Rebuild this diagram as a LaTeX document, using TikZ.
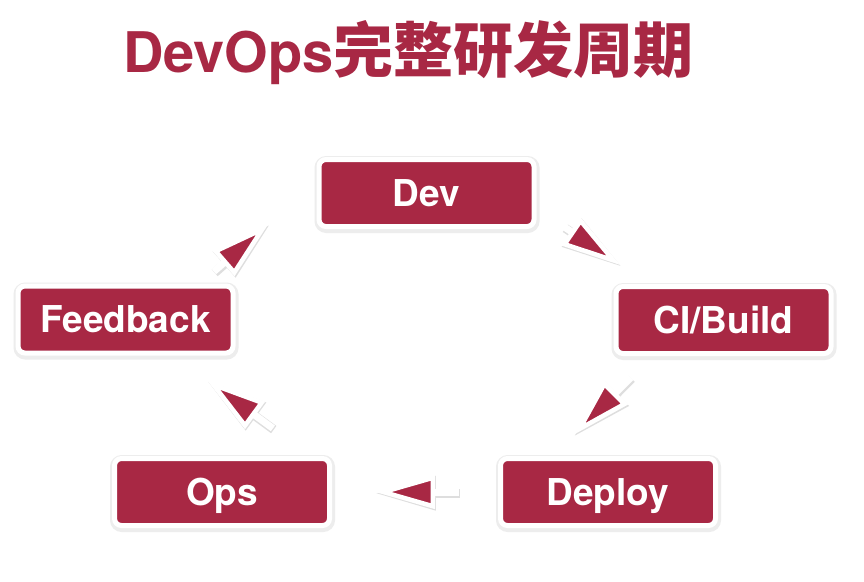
\documentclass[tikz,border=0pt]{standalone}
\usepackage{fontspec}
\setmainfont{TeX Gyre Heros}
\newfontfamily\cjk{Noto Sans CJK SC}
\usetikzlibrary{arrows.meta,calc}
\definecolor{devred}{RGB}{168,40,68}
\tikzset{
  stage/.style={rectangle, rounded corners=7pt, fill=devred, draw=white, line width=5pt,
    minimum width=215pt, minimum height=67pt, inner sep=0pt, outer sep=0pt,
    text=white, font=\fontsize{37}{40}\selectfont\bfseries, text height=26.5pt, text depth=0pt,
    preaction={draw=black!7, line width=10pt, transform canvas={xshift=0.5pt,yshift=-1.5pt}}},
  flowshadow/.style={draw=black!13, line width=9pt, transform canvas={xshift=0.8pt,yshift=-1.2pt},
    -{Triangle[length=60pt,width=33pt,fill=black!13,line width=6.5pt]}},
  flow/.style={draw=white, line width=7pt,
    -{Triangle[length=60pt,width=33pt,fill=devred,line width=4.5pt]}},
}
\begin{document}
\begin{tikzpicture}[x=1pt,y=-1pt]
\useasboundingbox[fill=white] (0,0) rectangle (864,581);
\node[anchor=base west, text=devred, font=\fontsize{56}{60}\selectfont\bfseries, inner sep=0pt]
  (title) at (123,72) {DevOps{\cjk\fontsize{60}{60}\selectfont 完整研发周期}};
\node[stage] (dev) at (426.5,193) {Dev};
\node[stage] (ci) at (723.5,320) {CI/Build};
\node[stage] (fb) at (125.5,319.5) {Feedback};
\node[stage] (ops) at (222,492) {Ops};
\node[stage] (dep) at (608,492) {Deploy};
% shadows of arrows
\draw[flowshadow, shorten <=37pt, shorten >=38pt] (dev.-7.6) -- (ci.155);
\draw[flowshadow, shorten <=33.9pt, shorten >=33.4pt] (ci.206) -- (dep.150);
\draw[flowshadow, shorten <=41.5pt, shorten >=45.5pt] (dep.west) -- (ops.east);
\draw[flowshadow, shorten <=51pt, shorten >=45.6pt] (ops.20) -- (fb.-37);
\draw[flowshadow, shorten <=22pt, shorten >=67pt] (fb.25) -- (dev.173);
% arrows
\draw[flow, shorten <=37pt, shorten >=38pt] (dev.-7.6) -- (ci.155);
\draw[flow, shorten <=33.9pt, shorten >=33.4pt] (ci.206) -- (dep.150);
\draw[flow, shorten <=41.5pt, shorten >=45.5pt] (dep.west) -- (ops.east);
\draw[flow, shorten <=51pt, shorten >=45.6pt] (ops.20) -- (fb.-37);
\draw[flow, shorten <=22pt, shorten >=67pt] (fb.25) -- (dev.173);
\end{tikzpicture}
\end{document}
